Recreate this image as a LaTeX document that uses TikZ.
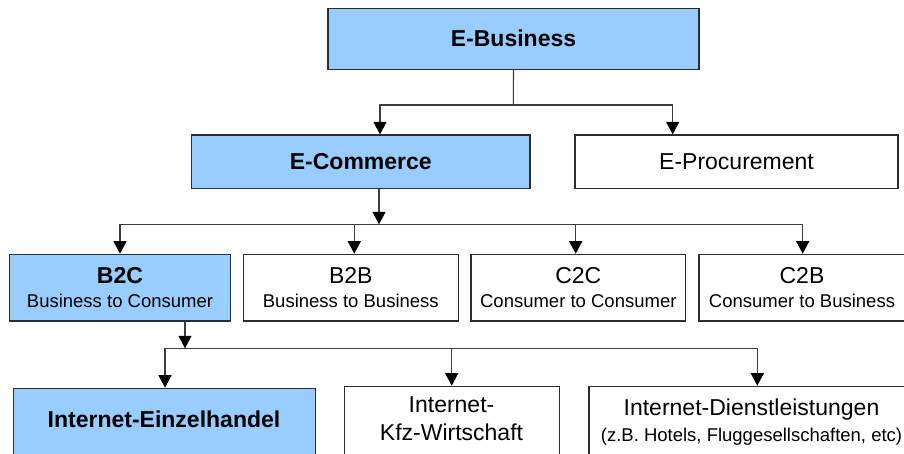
\documentclass[tikz,border=0pt]{standalone}
\usepackage{fontspec}
\setmainfont{Liberation Sans}
\usetikzlibrary{arrows.meta}
\definecolor{boxblue}{RGB}{153,204,255}
\definecolor{edgegray}{RGB}{45,45,45}
\definecolor{conngray}{RGB}{60,60,60}
\newcommand{\bigf}{\fontsize{23}{28}\selectfont}
\newcommand{\subf}{\fontsize{18.5}{24.4}\selectfont}
\begin{document}
\begin{tikzpicture}[x=1pt,y=-1pt,
  basebox/.style={draw=edgegray, line width=1.3pt, inner sep=0pt, align=center},
  bluebox/.style={basebox, fill=boxblue},
  whitebox/.style={basebox, fill=white},
  conn/.style={draw=conngray, line width=1.1pt},
  arr/.style={conn, -{Triangle[width=13pt,length=12.5pt,black]}},
]
\useasboundingbox (0,0) rectangle (904,453);
\clip (0,0) rectangle (904,453);

% level 1
\node[bluebox, minimum width=371pt, minimum height=61pt, font=\bigf\bfseries] (eb) at (513.5,38.7) {E-Business};

% level 2
\node[bluebox, minimum width=338.5pt, minimum height=53.5pt, font=\bigf\bfseries] (ec) at (360.8,161.8) {E-Commerce};
\node[whitebox, minimum width=323pt, minimum height=53.5pt, font=\bigf] (ep) at (736.5,161.8) {E-Procurement};

% level 3
\node[bluebox, minimum width=221.4pt, minimum height=66.7pt, font=\subf] (b2c) at (120,287.7)
  {{\fontsize{23}{24.4}\selectfont\bfseries B2C}\\Business to Consumer};
\node[whitebox, minimum width=215pt, minimum height=66.7pt, font=\subf] (b2b) at (350.8,287.7)
  {{\fontsize{23}{24.4}\selectfont B2B}\\Business to Business};
\node[whitebox, minimum width=214.7pt, minimum height=66.7pt, font=\subf] (c2c) at (578.3,287.7)
  {{\fontsize{23}{24.4}\selectfont C2C}\\Consumer to Consumer};
\node[whitebox, minimum width=206pt, minimum height=66.7pt, font=\subf] (c2b) at (802,287.7)
  {{\fontsize{23}{24.4}\selectfont C2B}\\Consumer to Business};

% level 4 (boxes run past the lower edge)
\node[bluebox, anchor=north west, minimum width=302.3pt, minimum height=90pt] (ieb) at (12.7,387.7) {};
\node[font=\bigf\bfseries, inner sep=0pt] (iet) at (164,419.5) {Internet-Einzelhandel};
\node[whitebox, anchor=north west, minimum width=215pt, minimum height=90pt] (kb) at (344,385.7) {};
\node[font=\bigf, align=center, inner sep=0pt] (kt) at (451.5,418.8) {Internet-\\Kfz-Wirtschaft};
\node[whitebox, anchor=north west, minimum width=326pt, minimum height=90pt] (db) at (588.3,385.7) {};
\node[font=\bigf, align=center, inner sep=0pt] (dt) at (751.5,421.9)
  {Internet-Dienstleistungen\\[-2pt]{\subf (z.B. Hotels, Fluggesellschaften, etc)}};

% connectors level 1 -> 2
\coordinate (j1) at (513.3,105);
\coordinate (j1l) at (380,105);
\coordinate (j1r) at (672.7,105);
\draw[conn] (eb.south) -- (j1);
\draw[arr] (j1) -- (j1l) -- (j1l |- ec.north);
\draw[arr] (j1) -- (j1r) -- (j1r |- ep.north);

% connectors level 2 -> 3
\coordinate (j2) at (379,224.3);
\coordinate (j2l) at (120,224.3);
\coordinate (j2b) at (354.3,224.3);
\coordinate (j2c) at (575.7,224.3);
\coordinate (j2r) at (802.7,224.3);
\draw[arr] (j2 |- ec.south) -- (j2);
\draw[arr] (j2) -- (j2l) -- (j2l |- b2c.north);
\draw[arr] (j2) -- (j2r) -- (j2r |- c2b.north);
\draw[arr] (j2b) -- (j2b |- b2b.north);
\draw[arr] (j2c) -- (j2c |- c2c.north);

% connectors level 3 -> 4
\coordinate (j3) at (185,348.3);
\coordinate (j3l) at (165,348.3);
\coordinate (j3k) at (451.7,348.3);
\coordinate (j3r) at (757.3,348.3);
\draw[arr] (j3 |- b2c.south) -- (j3);
\draw[arr] (j3) -- (j3l) -- (j3l |- ieb.north);
\draw[arr] (j3) -- (j3r) -- (j3r |- db.north);
\draw[arr] (j3k) -- (j3k |- kb.north);
\end{tikzpicture}
\end{document}
